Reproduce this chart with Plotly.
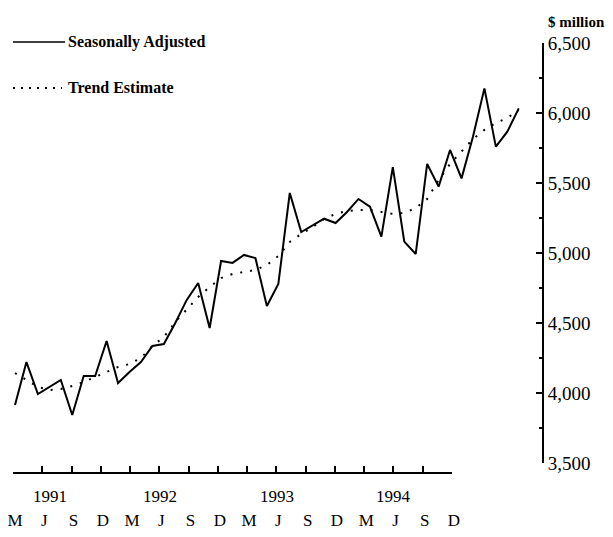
import plotly.graph_objects as go
import pandas as pd

# ---- data ----
months = list(pd.date_range("1991-03-01", periods=45, freq="MS").strftime("%b %Y"))
seasonally_adjusted = [3914, 4221, 3993, 4043, 4093, 3843, 4121, 4121, 4371, 4071,
                       4150, 4221, 4336, 4350, 4500, 4665, 4786, 4464, 4943, 4929,
                       4986, 4964, 4621, 4779, 5429, 5150, 5200, 5245, 5214, 5293,
                       5386, 5331, 5117, 5614, 5081, 4993, 5636, 5474, 5736, 5533,
                       5831, 6176, 5760, 5867, 6033]
trend_estimate = [4143, 4093, 4043, 4021, 4029, 4050, 4079, 4114, 4150, 4186,
                  4207, 4250, 4336, 4400, 4507, 4593, 4686, 4757, 4821, 4850,
                  4864, 4879, 4914, 4979, 5079, 5136, 5186, 5243, 5279, 5300,
                  5307, 5307, 5293, 5279, 5286, 5321, 5386, 5521, 5636, 5729,
                  5814, 5879, 5929, 5964, 6021]
axis_months = list(range(0, 46, 3))
axis_month_labels = ["M", "J", "S", "D"] * 4
year_labels = ["1991", "1992", "1993", "1994"]
year_label_pos = [3.8, 15.1, 27.1, 39.0]
y_ticks = [3500, 4000, 4500, 5000, 5500, 6000, 6500]

FONT = "Liberation Serif"
OFF = 8                      # page body margin of the browser
W, H = 613 - OFF, 537 - OFF
# plot area in window pixels: x 13..542, y 43..473
L, R, T, B = 13 - OFF, 613 - 542, 43 - OFF, 537 - 473
PW, PH = W - L - R, H - T - B

def px(xp):   # window x pixel -> paper fraction
    return (xp - OFF - L) / PW

def py(yp):   # window y pixel -> paper fraction
    return (H - B - (yp - OFF)) / PH

idx = list(range(len(months)))

fig = go.Figure()
fig.add_trace(go.Scatter(x=idx, y=trend_estimate, customdata=months, mode="lines",
                         line=dict(color="black", width=2, dash="2px,8px"),
                         showlegend=False,
                         hovertemplate="%{customdata}: %{y:,}<extra>Trend</extra>"))
fig.add_trace(go.Scatter(x=idx, y=seasonally_adjusted, customdata=months, mode="lines",
                         line=dict(color="black", width=2),
                         showlegend=False,
                         hovertemplate="%{customdata}: %{y:,}<extra>Seasonally adjusted</extra>"))
# helper (invisible) trace to activate the month axis
fig.add_trace(go.Scatter(x=[axis_months[0], axis_months[-1]], y=[None, None],
                         xaxis="x2", yaxis="y", mode="lines", showlegend=False,
                         hoverinfo="skip"))

fig.update_layout(
    width=W, height=H,
    margin=dict(l=L, r=R, t=T, b=B, autoexpand=False),
    paper_bgcolor="white", plot_bgcolor="rgba(0,0,0,0)",
    font=dict(family=FONT, color="black", size=16),
    xaxis=dict(visible=False, range=[-0.175, 46.03], automargin=False,
               domain=[0, 1], anchor="y"),
    xaxis2=dict(anchor="free", position=0, domain=[0, px(452)], automargin=False,
                range=[0, 45], tickmode="array", tickvals=axis_months,
                ticktext=axis_month_labels, showline=True, linecolor="black",
                linewidth=2, ticks="inside", ticklen=6, tickwidth=2,
                tickcolor="black", showgrid=False, zeroline=False,
                tickfont=dict(family=FONT, size=17, color="black"),
                ticklabelstandoff=32, ticklabelshift=2, ticklabeloverflow="allow"),
    yaxis=dict(side="right", anchor="x", domain=[py(463), 1], automargin=False,
               range=[3500, 6500], tickmode="array", tickvals=y_ticks,
               tickformat=",d", showline=True, linecolor="black", linewidth=2,
               ticks="inside", ticklen=6, tickwidth=2, tickcolor="black",
               showgrid=False, zeroline=False,
               minor=dict(dtick=250, ticks="inside", ticklen=3, tickwidth=1.5,
                          tickcolor="black", showgrid=False),
               tickfont=dict(family=FONT, size=19, color="black")),
)

annotations = []
for lab, pos in zip(year_labels, year_label_pos):
    annotations.append(dict(x=pos, y=py(496), xref="x2", yref="paper",
                            xanchor="center", yanchor="middle",
                            text=lab, showarrow=False,
                            font=dict(family=FONT, size=17, color="black")))
annotations.append(dict(x=px(546), y=py(22), xref="paper", yref="paper",
                        text="<b>$ million</b>", showarrow=False,
                        xanchor="left", yanchor="middle",
                        font=dict(family=FONT, size=15, color="black")))
annotations.append(dict(x=px(66), y=py(42), xref="paper", yref="paper",
                        text="<b>Seasonally Adjusted</b>", showarrow=False,
                        xanchor="left", yanchor="middle",
                        font=dict(family=FONT, size=16, color="black")))
annotations.append(dict(x=px(66), y=py(88), xref="paper", yref="paper",
                        text="<b>Trend Estimate</b>", showarrow=False,
                        xanchor="left", yanchor="middle",
                        font=dict(family=FONT, size=16, color="black")))
fig.update_layout(annotations=annotations)

fig.add_shape(type="line", xref="paper", yref="paper",
              x0=px(13), x1=px(65), y0=py(42), y1=py(42),
              line=dict(color="black", width=1.5))
fig.add_shape(type="line", xref="paper", yref="paper",
              x0=px(13), x1=px(62), y0=py(88), y1=py(88),
              line=dict(color="black", width=2, dash="2px,6px"))

fig.write_html("out.html")
